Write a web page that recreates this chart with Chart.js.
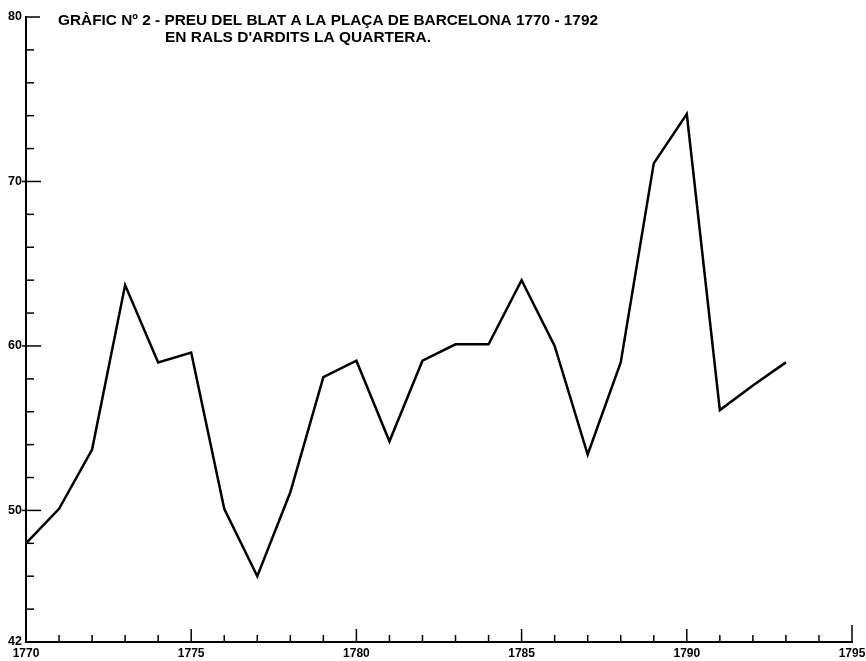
<!DOCTYPE html>
<html>
<head>
<meta charset="utf-8">
<script src="https://cdn.jsdelivr.net/npm/chart.js@4.4.0/dist/chart.umd.min.js"></script>
<style>
  html, body { margin: 0; padding: 0; background: #fff; }
  #wrap { width: 866px; height: 661px; }
</style>
</head>
<body>
<div id="wrap"><canvas id="blatChart" width="866" height="661"></canvas></div>
<script>
// Preu del blat a Barcelona, rals d'ardits la quartera
const years = [1770, 1771, 1772, 1773, 1774, 1775, 1776, 1777, 1778, 1779, 1780, 1781,
  1782, 1783, 1784, 1785, 1786, 1787, 1788, 1789, 1790, 1791, 1792, 1793];
const prices = [48.0, 50.1, 53.7, 63.7, 59.0, 59.6, 50.1, 46.0, 51.1, 58.1, 59.1, 54.2,
  59.1, 60.1, 60.1, 64.0, 60.0, 53.4, 59.0, 71.1, 74.1, 56.1, 57.6, 59.0];
const yLabels = [42, 50, 60, 70, 80];
const xLabels = [1770, 1775, 1780, 1785, 1790, 1795];

const titleLine1 = "GRÀFIC Nº 2 - PREU DEL BLAT A LA PLAÇA DE BARCELONA 1770 - 1792";
const titleLine2 = "EN RALS D'ARDITS LA QUARTERA.";

const FONT = "'Liberation Sans', Arial, sans-serif";

/**
 * Draws the inward tick marks and the two-line title
 */
const paperPlugin = {
  id: "paper",
  afterDraw: (chart) => {
    const { ctx, chartArea, scales } = chart;
    const { x, y } = scales;
    ctx.save();
    ctx.strokeStyle = "#000";
    ctx.lineWidth = 1.5;

    y.ticks.forEach((t) => {
      const v = t.value;
      if (v === 42) return;
      const py = y.getPixelForValue(v);
      const major = v % 10 === 0;
      ctx.beginPath();
      ctx.moveTo(chartArea.left - (major && v !== 80 ? 4 : 0), py);
      ctx.lineTo(chartArea.left + (v === 80 ? 14 : major ? 15 : 8), py);
      ctx.stroke();
    });

    x.ticks.forEach((t) => {
      const v = t.value;
      if (v === 1770) return;
      const px = x.getPixelForValue(v);
      const len = v === 1795 ? 17 : v % 5 === 0 ? 13 : 7;
      ctx.beginPath();
      ctx.moveTo(px, chartArea.bottom);
      ctx.lineTo(px, chartArea.bottom - len);
      ctx.stroke();
    });

    ctx.fillStyle = "#000";
    ctx.textBaseline = "alphabetic";
    ctx.textAlign = "left";
    ctx.font = "bold 15.5px " + FONT;
    ctx.fillText(titleLine1, 58, 25, 540);
    ctx.fillText(titleLine2, 165, 42, 266);
    ctx.restore();
  },
};

const ctx = document.getElementById("blatChart").getContext("2d");

new Chart(ctx, {
  type: "line",
  data: {
    datasets: [
      {
        label: "Preu del blat",
        data: years.map((yr, i) => ({ x: yr, y: prices[i] })),
        borderColor: "#000",
        borderWidth: 2.5,
        pointRadius: 0,
        tension: 0,
        fill: false,
      },
    ],
  },
  options: {
    responsive: false,
    animation: false,
    layout: {
      padding: { top: 17, right: 14, left: 4, bottom: 0 },
    },
    scales: {
      x: {
        type: "linear",
        min: 1770,
        max: 1795,
        afterFit: (scale) => {
          scale.height = 19;
          scale.paddingLeft = 0;
          scale.paddingRight = 0;
        },
        grid: { display: true, drawOnChartArea: false, drawTicks: false },
        border: { display: true, color: "#000", width: 2 },
        ticks: {
          stepSize: 1,
          autoSkip: false,
          maxRotation: 0,
          padding: 4,
          color: "#000",
          font: { family: FONT, size: 12, weight: "bold" },
          callback: (v) => (xLabels.includes(v) ? String(v) : ""),
        },
      },
      y: {
        min: 42,
        max: 80,
        afterFit: (scale) => {
          scale.width = 22;
        },
        grid: { display: true, drawOnChartArea: false, drawTicks: false },
        border: { display: true, color: "#000", width: 2 },
        ticks: {
          stepSize: 2,
          autoSkip: false,
          padding: 4,
          color: "#000",
          font: { family: FONT, size: 12.5, weight: "bold" },
          callback: (v) => (yLabels.includes(v) ? String(v) : ""),
        },
      },
    },
    plugins: {
      legend: { display: false },
      tooltip: { enabled: false },
    },
  },
  plugins: [paperPlugin],
});
</script>
</body>
</html>
